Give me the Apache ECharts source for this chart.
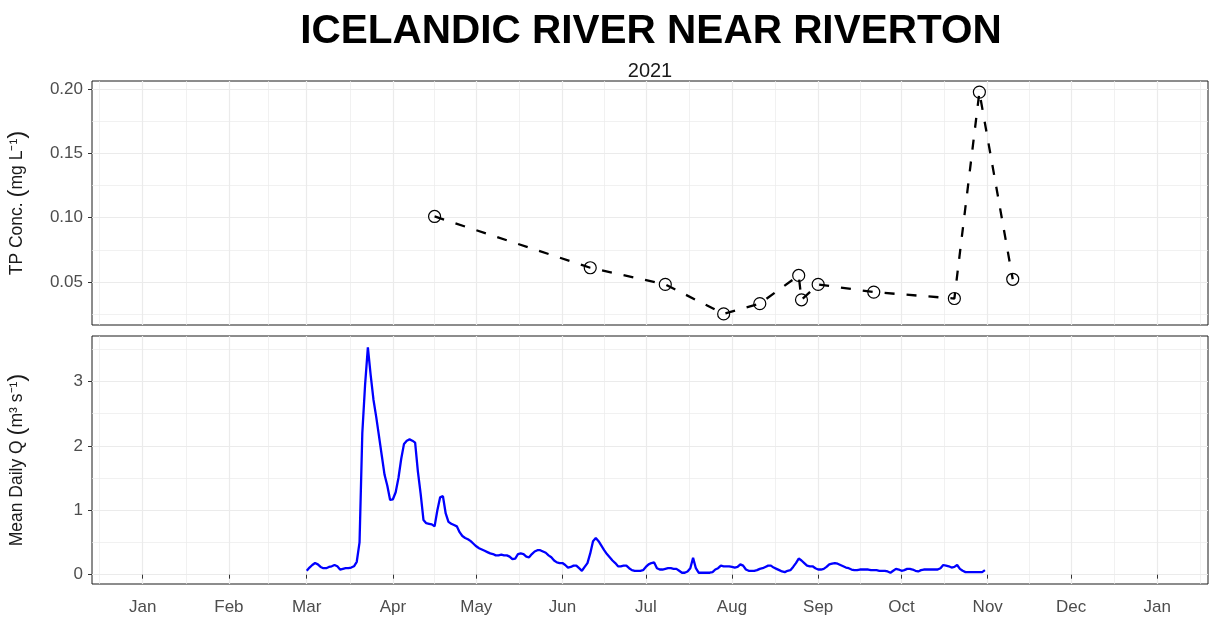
<!DOCTYPE html>
<html><head><meta charset="utf-8">
<script src="https://cdn.jsdelivr.net/npm/echarts@6/dist/echarts.min.js"></script>
<style>html,body{margin:0;padding:0;background:#fff}#c{width:1209px;height:620px}</style>
</head><body><div id="c"></div>
<script>
// ---- data ----
const titleText = 'ICELANDIC RIVER NEAR RIVERTON';
const subtitleText = '2021';
const monthLabels = ['Jan','Feb','Mar','Apr','May','Jun','Jul','Aug','Sep','Oct','Nov','Dec','Jan'];
const tpDates = ['2021-04-16','2021-06-11','2021-07-08','2021-07-29','2021-08-11','2021-08-25','2021-08-26','2021-09-01','2021-09-21','2021-10-20','2021-10-29','2021-11-10'];
const tpValues = [0.101,0.061,0.048,0.025,0.033,0.055,0.036,0.048,0.042,0.037,0.198,0.052];
const tpTicks = [0.05,0.10,0.15,0.20];
const tpMinorTicks = [0.025,0.075,0.125,0.175];
const flowStart = '2021-03-01';
const flowValues = [
0.06,0.11,0.15,0.18,0.16,0.12,0.10,0.10,0.12,0.13,
0.15,0.13,0.08,0.09,0.10,0.10,0.11,0.13,0.20,0.50,
2.20,2.95,3.53,3.10,2.72,2.45,2.15,1.85,1.55,1.38,
1.16,1.17,1.28,1.50,1.80,2.03,2.08,2.10,2.08,2.05,
1.60,1.25,0.85,0.80,0.79,0.78,0.75,1.00,1.20,1.22,
0.95,0.82,0.79,0.77,0.75,0.66,0.60,0.57,0.55,0.52,
0.48,0.44,0.41,0.39,0.37,0.35,0.33,0.32,0.30,0.30,
0.31,0.30,0.30,0.28,0.24,0.25,0.32,0.33,0.32,0.28,
0.27,0.32,0.36,0.38,0.38,0.36,0.34,0.30,0.27,0.22,
0.19,0.18,0.18,0.15,0.11,0.12,0.14,0.14,0.10,0.06,
0.12,0.18,0.33,0.52,0.57,0.52,0.45,0.38,0.32,0.27,
0.22,0.18,0.13,0.13,0.14,0.14,0.10,0.07,0.06,0.06,
0.06,0.07,0.12,0.16,0.18,0.19,0.10,0.08,0.08,0.09,
0.10,0.10,0.09,0.09,0.06,0.03,0.03,0.05,0.10,0.26,
0.10,0.03,0.03,0.03,0.03,0.03,0.04,0.08,0.10,0.14,
0.13,0.13,0.13,0.12,0.11,0.12,0.16,0.14,0.08,0.06,
0.06,0.06,0.07,0.09,0.10,0.12,0.14,0.14,0.11,0.09,
0.07,0.05,0.04,0.06,0.07,0.12,0.18,0.25,0.22,0.18,
0.14,0.13,0.13,0.10,0.08,0.08,0.09,0.12,0.16,0.17,
0.18,0.17,0.15,0.13,0.11,0.10,0.08,0.07,0.07,0.08,
0.08,0.08,0.08,0.07,0.07,0.07,0.06,0.06,0.06,0.05,
0.03,0.06,0.09,0.08,0.06,0.07,0.09,0.09,0.08,0.06,
0.05,0.07,0.08,0.08,0.08,0.08,0.08,0.08,0.10,0.15,
0.14,0.13,0.11,0.12,0.15,0.09,0.06,0.04,0.04,0.04,
0.04,0.04,0.04,0.04,0.07];
const flowTicks = [0,1,2,3];
const flowMinorTicks = [0.5,1.5,2.5,3.5];

// ---- build ----
const DAY = 86400000;
const monthTicks = monthLabels.map((_, i) => Date.UTC(2021, i, 1));
const monthMinor = [];
for (let i = -1; i < monthLabels.length; i++) {
  monthMinor.push((Date.UTC(2021, i, 1) + Date.UTC(2021, i + 1, 1)) / 2);
}
const xStart = Date.UTC(2021,0,1), xEnd = Date.UTC(2022,0,1);
const xPad = (xEnd - xStart) * 0.05;
const xMin = xStart - xPad, xMax = xEnd + xPad;
function padRange(arr){ const lo=Math.min(...arr), hi=Math.max(...arr); const p=(hi-lo)*0.05; return [lo-p, hi+p]; }
const tpR = padRange(tpValues);
const flR = padRange(flowValues);
const tpData = tpDates.map((d,i)=>[Date.parse(d), tpValues[i]]);
const f0 = Date.parse(flowStart);
const flowData = flowValues.map((v,i)=>[f0 + i*DAY, v]);

const FONT = "'Liberation Sans', Arial, sans-serif";
const gridCol = '#EBEBEB';
const majorLine = {show:true, lineStyle:{color:gridCol, width:1.2}};
const minorLine = {show:true, lineStyle:{color:gridCol, width:0.7}};
const tickStyle = {show:true, length:4, inside:false, lineStyle:{color:'#333', width:1}};
const labelStyle = {color:'#4D4D4D', fontSize:17, fontFamily:FONT};
const parenRich = {p:{fontSize:24, fontFamily:FONT, color:'#1A1A1A'}};

function xMajor(gi, showLabels){
  return {type:'value', gridIndex:gi, min:xMin, max:xMax, z:1,
    axisLine:{show:false},
    axisTick: showLabels ? Object.assign({customValues:monthTicks}, tickStyle) : {show:false, customValues:monthTicks},
    axisLabel: {show:showLabels, customValues:monthTicks, margin:15, ...labelStyle,
      formatter:(v)=>{ const d=new Date(v); return monthLabels[d.getUTCMonth()]; }},
    splitLine: majorLine};
}
function xMinor(gi){
  return {type:'value', gridIndex:gi, min:xMin, max:xMax, z:0,
    axisLine:{show:false}, axisTick:{show:false, customValues:monthMinor},
    axisLabel:{show:false, customValues:monthMinor}, splitLine: minorLine};
}
function yMajor(gi, r, ticks, name, fmt){
  return {type:'value', gridIndex:gi, min:r[0], max:r[1], z:1,
    axisLine:{show:false},
    axisTick:Object.assign({customValues:ticks}, tickStyle),
    axisLabel:{customValues:ticks, margin:9, ...labelStyle, formatter:fmt},
    splitLine: majorLine,
    name:name, nameLocation:'middle', nameGap:63, nameRotate:90,
    nameTextStyle:{color:'#1A1A1A', fontSize:17.5, fontFamily:FONT, rich:parenRich}};
}
function yMinor(gi, r, ticks){
  return {type:'value', gridIndex:gi, min:r[0], max:r[1], z:0,
    axisLine:{show:false}, axisTick:{show:false, customValues:ticks},
    axisLabel:{show:false, customValues:ticks}, splitLine:minorLine};
}

const option = {
  animation:false,
  backgroundColor:'#fff',
  title:[
    {text:titleText, left:646, top:6, textAlign:'center',
     textStyle:{fontFamily:"'Liberation Sans Narrow', 'Liberation Sans', Arial, sans-serif", fontWeight:'bold', fontSize:40.5, color:'#000'}},
    {text:subtitleText, left:645, top:56, textAlign:'center',
     textStyle:{fontFamily:FONT, fontWeight:'normal', fontSize:20, color:'#1A1A1A'}}
  ],
  grid:[
    {left:92, top:81, width:1116, height:244, show:true, borderColor:'#1A1A1A', borderWidth:1, backgroundColor:'#fff', containLabel:false, outerBoundsMode:'none'},
    {left:92, top:336, width:1116, height:248, show:true, borderColor:'#1A1A1A', borderWidth:1, backgroundColor:'#fff', containLabel:false, outerBoundsMode:'none'}
  ],
  xAxis:[ xMajor(0,false), xMinor(0), xMajor(1,true), xMinor(1) ],
  yAxis:[
    yMajor(0, tpR, tpTicks, 'TP Conc. {p|(}mg L\u207B\u00B9{p|)}', v=>v.toFixed(2)),
    yMinor(0, tpR, tpMinorTicks),
    yMajor(1, flR, flowTicks, 'Mean Daily Q {p|(}m\u00B3 s\u207B\u00B9{p|)}', v=>String(Math.round(v))),
    yMinor(1, flR, flowMinorTicks)
  ],
  series:[
    {type:'line', xAxisIndex:0, yAxisIndex:0, data:tpData, z:5,
     lineStyle:{color:'#000', width:2.3, type:[10,12]},
     symbol:'circle', symbolSize:12, showSymbol:true,
     itemStyle:{color:'rgba(255,255,255,0)', borderColor:'#000', borderWidth:1.2}},
    {type:'line', xAxisIndex:2, yAxisIndex:2, data:flowData, z:5,
     lineStyle:{color:'#0000FF', width:2.3}, showSymbol:false, symbol:'none'}
  ]
};
const chart = echarts.init(document.getElementById('c'), null, {renderer:'canvas'});
chart.setOption(option);
</script>
</body></html>
